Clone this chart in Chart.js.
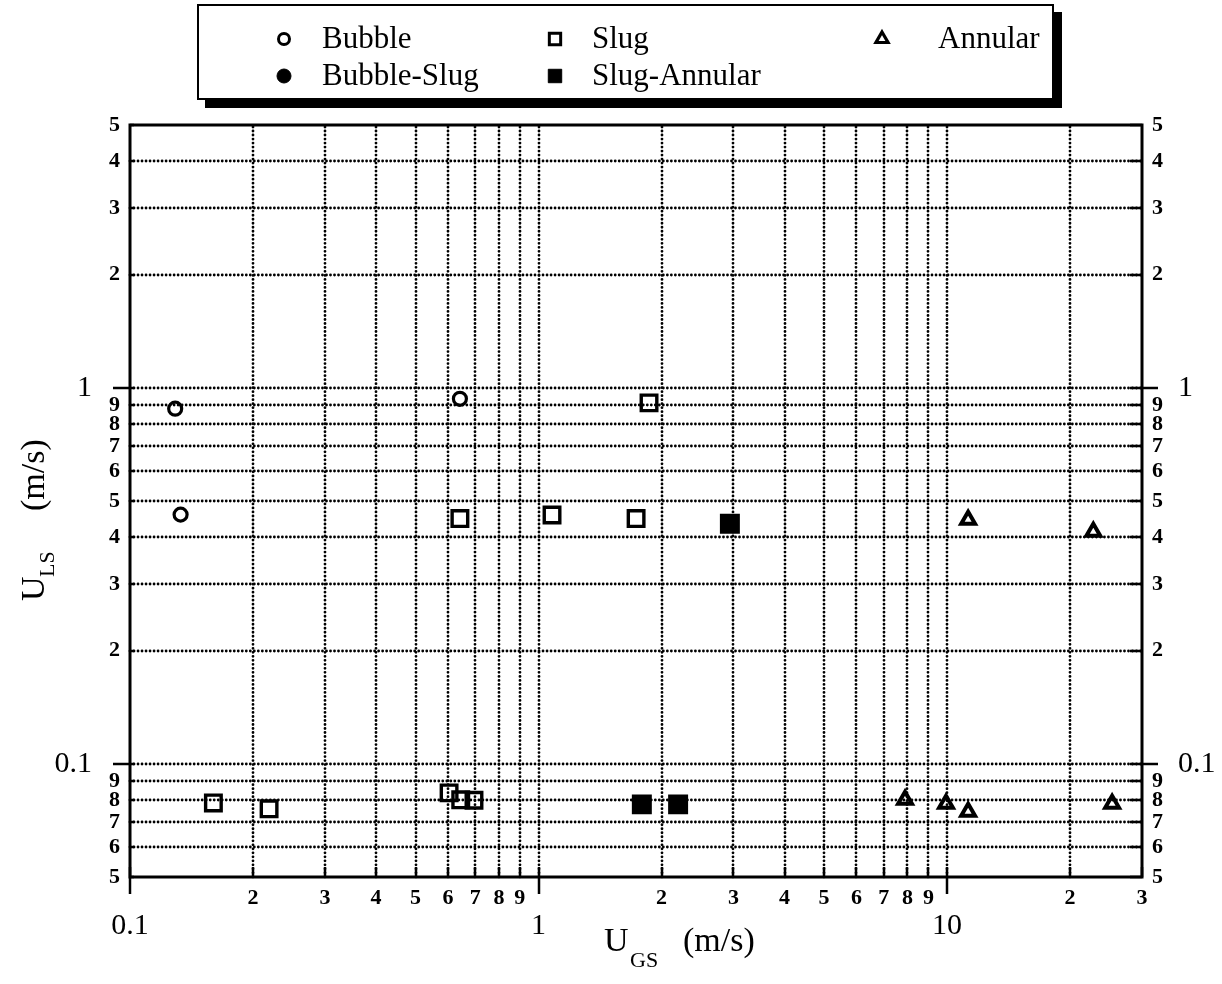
<!DOCTYPE html>
<html><head><meta charset="utf-8">
<style>html,body{margin:0;padding:0;background:#fff;}#wrap{position:relative;width:1222px;height:984px;}</style>
<script src="https://cdn.jsdelivr.net/npm/chart.js@4.4.0/dist/chart.umd.min.js"></script>
</head><body><div id="wrap"><canvas id="c" width="1222" height="984"></canvas></div>
<script>
// ---- data ----
const seriesNames = ['Bubble', 'Bubble-Slug', 'Slug', 'Slug-Annular', 'Annular'];
const bubbleX = [0.129, 0.133, 0.642];
const bubbleY = [0.88, 0.46, 0.935];
const bubbleSlugX = [];
const bubbleSlugY = [];
const slugX = [0.160, 0.219, 0.604, 0.645, 0.695, 0.642, 1.079, 1.733, 1.864];
const slugY = [0.0787, 0.0759, 0.0837, 0.0802, 0.0800, 0.449, 0.459, 0.449, 0.912];
const slugAnnX = [1.79, 2.196, 2.94];
const slugAnnY = [0.078, 0.078, 0.435];
const annularX = [7.89, 9.94, 11.26, 25.35, 11.26, 22.8];
const annularY = [0.0802, 0.0783, 0.0746, 0.0783, 0.446, 0.414];

// ---- tick labels ----
const xMinorTicks = [0.2,0.3,0.4,0.5,0.6,0.7,0.8,0.9,2,3,4,5,6,7,8,9,20,30];
const xMinorLabels = ['2','3','4','5','6','7','8','9','2','3','4','5','6','7','8','9','2','3'];
const xMajorTicks = [0.1, 1, 10];
const xMajorLabels = ['0.1', '1', '10'];
const yMinorTicks = [0.05,0.06,0.07,0.08,0.09,0.2,0.3,0.4,0.5,0.6,0.7,0.8,0.9,2,3,4,5];
const yMinorLabels = ['5','6','7','8','9','2','3','4','5','6','7','8','9','2','3','4','5'];
const yMajorTicks = [0.1, 1];
const yMajorLabels = ['0.1', '1'];

const FONT = "'Liberation Serif', 'Times New Roman', serif";

function pts(xs, ys){ return xs.map((x, i) => ({x: x, y: ys[i]})); }
function ds(label, data, style, filled, r, bw){
  const bg = filled ? '#000' : 'rgba(0,0,0,0)';
  return {label: label, data: data, showLine: false, pointStyle: style,
    pointRadius: r, pointHoverRadius: r, pointBorderWidth: bw, pointHoverBorderWidth: bw,
    borderWidth: bw, borderColor: '#000', pointBorderColor: '#000',
    backgroundColor: bg, pointBackgroundColor: bg, xAxisID: 'x', yAxisID: 'y', _filled: filled};
}

const datasets = [
  ds(seriesNames[0], pts(bubbleX, bubbleY), 'circle', false, 6.5, 3.2),
  ds(seriesNames[1], pts(bubbleSlugX, bubbleSlugY), 'circle', true, 8, 2),
  ds(seriesNames[2], pts(slugX, slugY), 'rect', false, 11, 3.4),
  ds(seriesNames[3], pts(slugAnnX, slugAnnY), 'rect', true, 12, 3),
  ds(seriesNames[4], pts(annularX, annularY), 'triangle', false, 8, 4)
];

function setTicks(values){ return function(s){ s.ticks = values.map(v => ({value: v})); }; }
function axis(pos, min, max, weight, size, values, labels, fontSize, bold, padding){
  return {
    type: 'logarithmic', position: pos, min: min, max: max, weight: weight,
    grid: {display: false, drawTicks: false}, border: {display: false},
    afterBuildTicks: setTicks(values),
    afterFit: function(s){ if (pos === 'bottom' || pos === 'top') s.height = size; else s.width = size; },
    ticks: {autoSkip: false, maxRotation: 0, minRotation: 0, padding: padding, color: '#000',
      font: {family: FONT, size: fontSize, weight: bold ? 'bold' : 'normal'},
      callback: function(v, i){ return labels[i]; }}
  };
}

function drawMarker(ctx, style, filled, x, y, r, bw){
  ctx.save();
  ctx.beginPath();
  if (style === 'circle') ctx.arc(x, y, r, 0, Math.PI * 2);
  else if (style === 'rect') { const s = r * Math.SQRT1_2; ctx.rect(x - s, y - s, 2 * s, 2 * s); }
  else { ctx.moveTo(x, y - r); ctx.lineTo(x + r * 0.866, y + r / 2); ctx.lineTo(x - r * 0.866, y + r / 2); ctx.closePath(); }
  if (filled) { ctx.fillStyle = '#000'; ctx.fill(); }
  ctx.lineWidth = bw; ctx.strokeStyle = '#000'; ctx.lineJoin = 'miter'; ctx.stroke();
  ctx.restore();
}

const decor = {
  id: 'decor',
  beforeDatasetsDraw(chart){
    const ctx = chart.ctx, a = chart.chartArea, sx = chart.scales.x, sy = chart.scales.y;
    const xs = xMinorTicks.concat(xMajorTicks), ys = yMinorTicks.concat(yMajorTicks);
    ctx.save();
    // dotted grid
    ctx.strokeStyle = '#000'; ctx.lineWidth = 2.8; ctx.lineCap = 'round'; ctx.setLineDash([0.01, 4]);
    xs.forEach(v => {
      const p = Math.round(sx.getPixelForValue(v));
      if (p <= a.left + 2 || p >= a.right - 2) return;
      ctx.beginPath(); ctx.moveTo(p, a.top + 2); ctx.lineTo(p, a.bottom); ctx.stroke();
    });
    ys.forEach(v => {
      const p = Math.round(sy.getPixelForValue(v));
      if (p <= a.top + 2 || p >= a.bottom - 2) return;
      ctx.beginPath(); ctx.moveTo(a.left, p); ctx.lineTo(a.right, p); ctx.stroke();
    });
    ctx.setLineDash([]); ctx.lineCap = 'butt';
    // inner stubs
    ctx.lineWidth = 2.5;
    xs.forEach(v => {
      const p = Math.round(sx.getPixelForValue(v));
      ctx.beginPath(); ctx.moveTo(p, a.bottom); ctx.lineTo(p, a.bottom - 10); ctx.stroke();
    });
    ys.forEach(v => {
      const p = Math.round(sy.getPixelForValue(v));
      ctx.beginPath(); ctx.moveTo(a.right, p); ctx.lineTo(a.right - 12, p); ctx.stroke();
      ctx.beginPath(); ctx.moveTo(a.left, p); ctx.lineTo(a.left + 4, p); ctx.stroke();
    });
    // major outer ticks
    ctx.lineWidth = 2.5;
    xMajorTicks.forEach(v => {
      const p = Math.round(sx.getPixelForValue(v));
      ctx.beginPath(); ctx.moveTo(p, a.bottom); ctx.lineTo(p, a.bottom + 17); ctx.stroke();
    });
    yMajorTicks.forEach(v => {
      const p = Math.round(sy.getPixelForValue(v));
      ctx.beginPath(); ctx.moveTo(a.left - 17, p); ctx.lineTo(a.left, p); ctx.stroke();
      ctx.beginPath(); ctx.moveTo(a.right, p); ctx.lineTo(a.right + 16, p); ctx.stroke();
    });
    // frame
    ctx.lineWidth = 3;
    ctx.strokeRect(a.left, a.top, a.right - a.left, a.bottom - a.top);
    ctx.restore();
  },
  afterDraw(chart){
    const ctx = chart.ctx;
    ctx.save();
    // legend box
    ctx.fillStyle = '#000';
    ctx.lineWidth = 2; ctx.strokeStyle = '#000';
    ctx.strokeRect(198, 5, 855, 94);
    ctx.fillRect(1053, 12, 9, 96);
    ctx.fillRect(205, 99, 857, 9);
    const col = [[0,0],[0,1],[1,0],[1,1],[2,0]];
    const mX = [284, 555, 882], tX = [322, 592, 938], rY = [39, 76];
    const mSize = [[5.5, 3], [7, 1], [8, 3], [9.5, 1], [7, 3.2]];
    chart.data.datasets.forEach((d, i) => {
      const c = col[i];
      drawMarker(ctx, d.pointStyle, d._filled, mX[c[0]], rY[c[1]], mSize[i][0], mSize[i][1]);
      ctx.fillStyle = '#000';
      ctx.font = '31px ' + FONT; ctx.textBaseline = 'middle'; ctx.textAlign = 'left';
      ctx.fillText(d.label, tX[c[0]], rY[c[1]] + 1);
    });
    // x axis title
    ctx.textBaseline = 'alphabetic';
    ctx.font = '34px ' + FONT; ctx.fillText('U', 604, 951);
    ctx.font = '22px ' + FONT; ctx.fillText('GS', 630, 967);
    ctx.font = '34px ' + FONT; ctx.fillText('(m/s)', 683, 951);
    // y axis title
    ctx.translate(44, 601); ctx.rotate(-Math.PI / 2);
    ctx.font = '34px ' + FONT; ctx.fillText('U', 0, 0);
    ctx.font = '22px ' + FONT; ctx.fillText('LS', 24, 10);
    ctx.font = '34px ' + FONT; ctx.fillText('(m/s)', 90, 0);
    ctx.restore();
  }
};

new Chart(document.getElementById('c'), {
  type: 'scatter',
  data: {datasets: datasets},
  options: {
    responsive: false, animation: false, devicePixelRatio: 1,
    layout: {padding: {top: 125, bottom: 27, left: 0, right: 0}},
    plugins: {legend: {display: false}, tooltip: {enabled: false}},
    scales: {
      x: axis('bottom', 0.1, 30, 0, 30, xMinorTicks, xMinorLabels, 22, true, 8),
      xMajor: axis('bottom', 0.1, 30, 1, 50, xMajorTicks, xMajorLabels, 30, false, 1),
      y: axis('left', 0.05, 5, 0, 26, yMinorTicks, yMinorLabels, 22, true, 10),
      yMajor: axis('left', 0.05, 5, 1, 104, yMajorTicks, yMajorLabels, 30, false, 12),
      y2: axis('right', 0.05, 5, 0, 26, yMinorTicks, yMinorLabels, 22, true, 10),
      y2Major: axis('right', 0.05, 5, 1, 54, yMajorTicks, yMajorLabels, 30, false, 10)
    }
  },
  plugins: [decor]
});
</script></body></html>
